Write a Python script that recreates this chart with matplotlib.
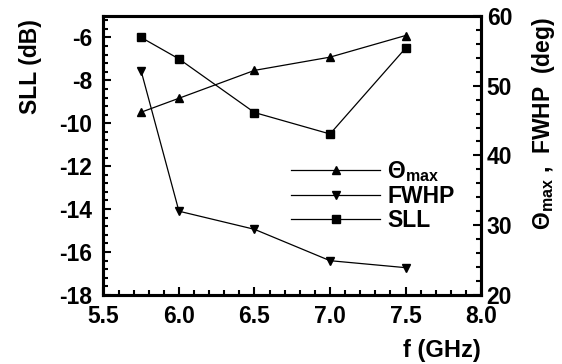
import numpy as np
import matplotlib
matplotlib.use("Agg")
import matplotlib.pyplot as plt
from matplotlib.ticker import MultipleLocator, FormatStrFormatter, FuncFormatter

plt.rcParams['font.family'] = 'Liberation Sans'
plt.rcParams['font.weight'] = 'bold'
plt.rcParams['mathtext.fontset'] = 'custom'
plt.rcParams['mathtext.rm'] = 'Liberation Sans:bold'
plt.rcParams['mathtext.it'] = 'Liberation Sans:bold'
plt.rcParams['mathtext.bf'] = 'Liberation Sans:bold'

freq = [5.75, 6.0, 6.5, 7.0, 7.5]
sll = [-6.0, -7.0, -9.5, -10.5, -6.5]
theta_max = [46.2, 48.2, 52.2, 54.1, 57.2]
fwhp = [52.1, 32.0, 29.4, 24.9, 23.9]

fig = plt.figure(figsize=(5.62, 3.64), dpi=100)
ax = fig.add_axes([0.184, 0.19, 0.672, 0.766])
ax2 = ax.twinx()

l1, = ax2.plot(freq, theta_max, 'k-^', lw=0.9, ms=6)
l2, = ax2.plot(freq, fwhp, 'k-v', lw=0.9, ms=6)
l3, = ax.plot(freq, sll, 'k-s', lw=0.9, ms=6)

ax.set_xlim(5.5, 8.0)
ax.set_ylim(-18, -5)
ax2.set_ylim(20, 60)

ax.xaxis.set_major_locator(MultipleLocator(0.5))
ax.xaxis.set_minor_locator(MultipleLocator(0.1))
ax.yaxis.set_major_locator(MultipleLocator(2))
ax.yaxis.set_minor_locator(MultipleLocator(0.4))
ax2.yaxis.set_major_locator(MultipleLocator(10))
ax2.yaxis.set_minor_locator(MultipleLocator(2))
ax.xaxis.set_major_formatter(FormatStrFormatter('%.1f'))
ax.yaxis.set_major_formatter(FuncFormatter(lambda v, p: '%d' % round(v)))

for a in (ax, ax2):
    for s in a.spines.values():
        s.set_linewidth(2.2)
ax.tick_params(axis='both', which='both', direction='in', top=False, right=False,
               labelsize=16.5, width=1.5)
ax.tick_params(which='major', length=6)
ax.tick_params(which='minor', length=3.5)
ax.tick_params(axis='x', pad=7)
ax.tick_params(axis='y', pad=8)
ax2.tick_params(axis='y', which='both', direction='in', labelsize=16.5, width=1.5, pad=4)
ax2.tick_params(which='major', length=6)
ax2.tick_params(which='minor', length=3.5)

ax.set_ylabel('SLL (dB)', fontsize=16.5, fontweight='bold')
ax.yaxis.set_label_coords(-0.163, 0.82)
ax2.set_ylabel(r'$\Theta_{max}$ ,  FWHP  (deg)', fontsize=16.5, fontweight='bold')
ax2.yaxis.set_label_coords(1.13, 0.613)
ax.set_xlabel('f (GHz)', fontsize=17, fontweight='bold', ha='right')
ax.xaxis.set_label_coords(1.0, -0.158)

ax.legend([l1, l2, l3], [r'$\Theta_{max}$', 'FWHP', 'SLL'], loc='upper left',
          bbox_to_anchor=(0.466, 0.528), frameon=False, fontsize=16.5,
          handlelength=3.9, handletextpad=0.3, labelspacing=0.05, borderpad=0)

fig.savefig('out.png', dpi=100)
